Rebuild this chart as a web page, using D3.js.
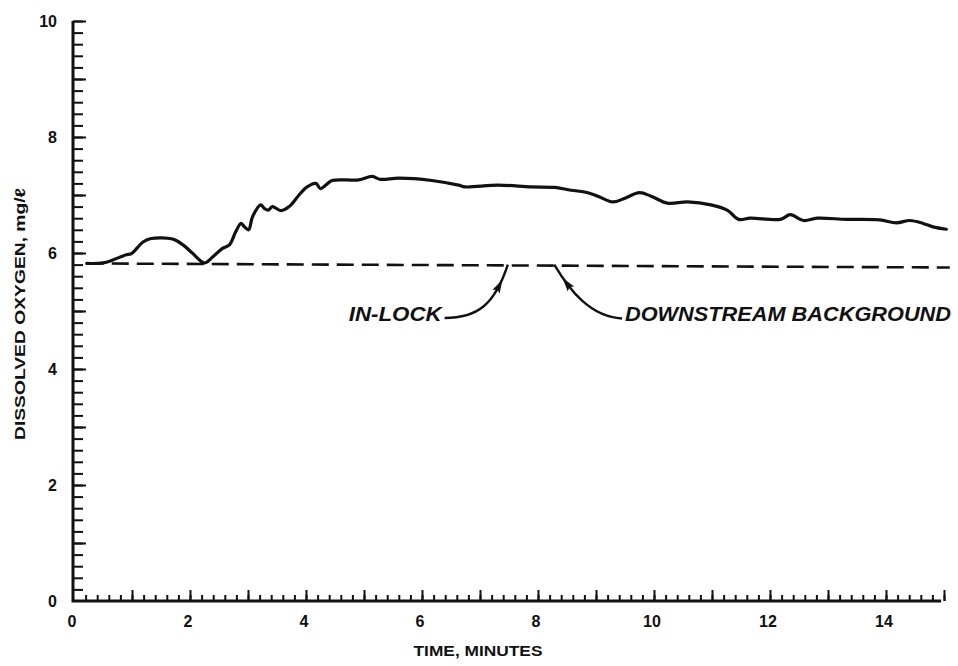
<!DOCTYPE html>
<html>
<head>
<meta charset="utf-8">
<script src="https://cdn.jsdelivr.net/npm/d3@7"></script>
<style>
  html, body { margin: 0; padding: 0; background: #fff; }
  svg { display: block; }
  text { font-family: "Liberation Sans", Arial, Helvetica, sans-serif; fill: #111; }
</style>
</head>
<body>
<svg id="chart" width="958" height="666"></svg>
<script>
// Dissolved oxygen record, minutes vs mg/l
const timeMin = [0.22, 0.50, 0.67, 0.90, 0.99, 1.19, 1.33, 1.70, 1.88, 2.05, 2.25, 2.39, 2.56, 2.68,
  2.79, 2.88, 2.94, 3.01, 3.08, 3.22, 3.28, 3.35, 3.42, 3.57, 3.71, 3.88, 4.02, 4.17, 4.25, 4.34,
  4.45, 4.91, 5.14, 5.28, 5.60, 6.17, 6.63, 6.74, 7.31, 7.88, 8.29, 8.52, 8.86, 9.03, 9.29, 9.49,
  9.75, 9.95, 10.23, 10.58, 10.98, 11.26, 11.46, 11.66, 12.18, 12.35, 12.58, 12.81, 13.32, 13.89,
  14.18, 14.41, 14.64, 14.81, 15.04];
const inLockDO = [5.82, 5.83, 5.88, 5.97, 5.99, 6.19, 6.25, 6.24, 6.14, 5.99, 5.83, 5.93, 6.08, 6.14,
  6.37, 6.51, 6.45, 6.40, 6.63, 6.83, 6.77, 6.74, 6.80, 6.73, 6.80, 7.00, 7.14, 7.20, 7.11, 7.17,
  7.25, 7.26, 7.32, 7.27, 7.29, 7.25, 7.17, 7.14, 7.17, 7.14, 7.13, 7.09, 7.04, 6.98, 6.88, 6.94,
  7.04, 6.98, 6.86, 6.88, 6.83, 6.74, 6.58, 6.60, 6.58, 6.66, 6.56, 6.60, 6.58, 6.57,
  6.52, 6.56, 6.51, 6.45, 6.41];

// Downstream background (dashed)
const bgTime = [0.22, 15.1];
const bgDO = [5.82, 5.75];

// Axis ticks
const xMajorTicks = [0, 2, 4, 6, 8, 10, 12, 14];
const yMajorTicks = [0, 2, 4, 6, 8, 10];

// Callout labels
const calloutLabels = ["IN-LOCK", "DOWNSTREAM BACKGROUND"];

const svg = d3.select("#chart");
const x = d3.scaleLinear().domain([0, 15]).range([74, 944]);
const y = d3.scaleLinear().domain([0, 10]).range([601, 21]);

const axisLeftX = 73;
const axisBottomY = 601;

// --- axes ---
const xMinor = d3.range(0, 15.001, 0.2).map(v => +v.toFixed(1)).filter(v => v > 0);
const xMajor = xMinor.filter(v => Math.abs(v - Math.round(v)) < 1e-6);
const yMinor = d3.range(0, 10.001, 0.2).map(v => +v.toFixed(1)).filter(v => v > 0);
const yMajor = yMinor.filter(v => Math.abs(v - Math.round(v)) < 1e-6);

const gx = svg.append("g").attr("transform", `translate(0,${axisBottomY})`);
gx.append("g").call(d3.axisBottom(x).tickValues(xMinor).tickSize(-6).tickFormat(""));
gx.append("g").call(d3.axisBottom(x).tickValues(xMajor).tickSize(-11).tickFormat(""));
gx.selectAll(".domain").remove();
gx.selectAll("line").attr("stroke", "#111").attr("stroke-width", 2);

const gy = svg.append("g").attr("transform", `translate(${axisLeftX},0)`);
gy.append("g").call(d3.axisLeft(y).tickValues(yMinor).tickSize(-10).tickFormat(""));
gy.append("g").call(d3.axisLeft(y).tickValues(yMajor).tickSize(-13).tickFormat(""));
gy.selectAll(".domain").remove();
gy.selectAll("line").attr("stroke", "#111").attr("stroke-width", 2);

// axis lines
svg.append("path")
  .attr("d", `M${axisLeftX},${y(10)}V${axisBottomY}H${x(14.95)}`)
  .attr("fill", "none").attr("stroke", "#111").attr("stroke-width", 3)
  .attr("stroke-linejoin", "miter");

// tick labels
svg.append("g").selectAll("text").data(xMajorTicks).join("text")
  .attr("x", d => x(d) - 2).attr("y", 627)
  .attr("text-anchor", "middle")
  .style("font-size", "16px").style("font-weight", "bold")
  .text(d => d);

svg.append("g").selectAll("text").data(yMajorTicks).join("text")
  .attr("x", 57).attr("y", d => y(d) + 6)
  .attr("text-anchor", "end")
  .style("font-size", "16px").style("font-weight", "bold")
  .text(d => d);

// axis titles
svg.append("text")
  .attr("x", 478).attr("y", 656)
  .attr("text-anchor", "middle")
  .attr("textLength", 129).attr("lengthAdjust", "spacingAndGlyphs")
  .style("font-size", "14px").style("font-weight", "bold")
  .text("TIME, MINUTES");

svg.append("text")
  .attr("transform", `translate(25,${314}) rotate(-90)`)
  .attr("text-anchor", "middle")
  .attr("textLength", 252).attr("lengthAdjust", "spacingAndGlyphs")
  .style("font-size", "14px").style("font-weight", "bold")
  .text("DISSOLVED OXYGEN, mg/ℓ");

// --- series ---
const line = d3.line().x(d => x(d[0])).y(d => y(d[1])).curve(d3.curveCatmullRom.alpha(0.5));

svg.append("path")
  .datum(bgTime.map((t, i) => [t, bgDO[i]]))
  .attr("d", d3.line().x(d => x(d[0])).y(d => y(d[1])))
  .attr("fill", "none").attr("stroke", "#111").attr("stroke-width", 2.6)
  .attr("stroke-dasharray", "17,8");

svg.append("path")
  .datum(timeMin.map((t, i) => [t, inLockDO[i]]))
  .attr("d", line)
  .attr("fill", "none").attr("stroke", "#111").attr("stroke-width", 3.2)
  .attr("stroke-linejoin", "round").attr("stroke-linecap", "round");

// --- callouts: label anchor and leader control points in data units ---
const callouts = [
  { label: calloutLabels[0], textAt: [6.34, 4.82], anchor: "end", width: 93,
    leader: [[6.39, 4.88], [6.95, 4.88], [7.25, 5.1], [7.48, 5.80]] },
  { label: calloutLabels[1], textAt: [9.5, 4.82], anchor: "start", width: 326,
    leader: [[8.28, 5.80], [8.55, 5.35], [8.9, 4.90], [9.45, 4.87]] }
];

callouts.forEach(c => {
  svg.append("text")
    .attr("x", x(c.textAt[0]))
    .attr("y", y(c.textAt[1]))
    .attr("text-anchor", c.anchor)
    .attr("textLength", c.width).attr("lengthAdjust", "spacingAndGlyphs")
    .style("font-size", "20px").style("font-weight", "bold").style("font-style", "italic")
    .text(c.label);

  const p = c.leader.map(d => [x(d[0]), y(d[1])]);
  const path = svg.append("path")
    .attr("d", `M${p[0]}C${p[1]} ${p[2]} ${p[3]}`)
    .attr("fill", "none").attr("stroke", "#111").attr("stroke-width", 2.4);

  // arrow head part-way along the leader, pointing toward the dashed line
  const node = path.node();
  const L = node.getTotalLength();
  const up = c.anchor === "end";
  const a = node.getPointAtLength(up ? L * 0.7 : L * 0.3);
  const b = node.getPointAtLength(up ? L * 0.78 : L * 0.22);
  const ang = Math.atan2(b.y - a.y, b.x - a.x) * 180 / Math.PI;
  svg.append("path")
    .attr("d", "M6,0 L-5,-3.2 L-3,0 L-5,3.2 Z")
    .attr("transform", `translate(${(a.x + b.x) / 2},${(a.y + b.y) / 2}) rotate(${ang})`)
    .attr("fill", "#111").attr("stroke", "#111").attr("stroke-width", 1);
});
</script>
</body>
</html>
